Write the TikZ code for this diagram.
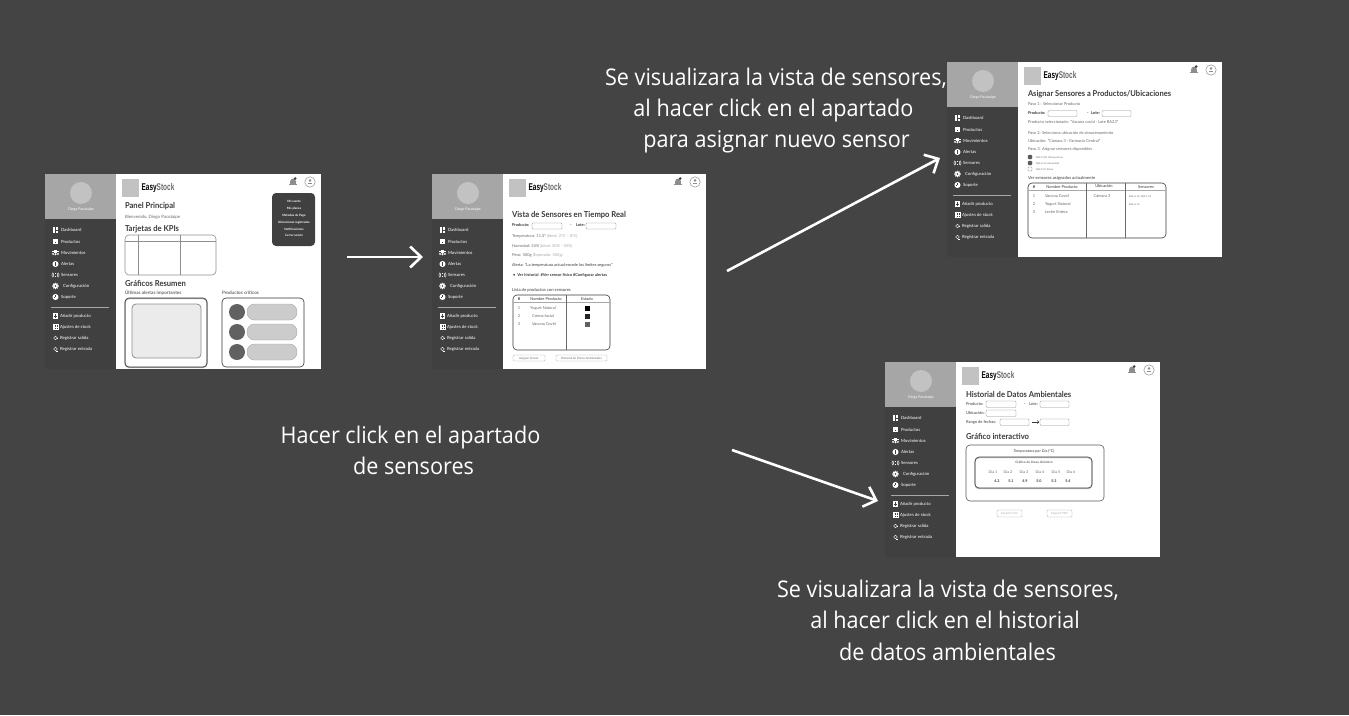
\documentclass[tikz,border=0pt]{standalone}
\usepackage{fontspec}
\usetikzlibrary{arrows.meta}
\setmainfont{Lato}
\newfontfamily\bigfont{Open Sans}
\newfontfamily\logofont{Liberation Sans}
\definecolor{bgc}{HTML}{444444}
\definecolor{sidec}{HTML}{404040}
\definecolor{headc}{HTML}{A6A6A6}
\definecolor{avac}{HTML}{C2C2C2}
\definecolor{inkc}{HTML}{3A3A3A}
\definecolor{midc}{HTML}{6A6A6A}
\definecolor{palec}{HTML}{A8A8A8}
\definecolor{linec}{HTML}{8E8E8E}
\newcommand{\fs}[1]{\fontsize{#1}{#1}\selectfont}
\newcounter{tn}
\tikzset{
  txt/.style={inner sep=0pt,outer sep=0pt,anchor=west,text=inkc},
  ctr/.style={anchor=center},
  sidetxt/.style={txt,text=white,font=\fs{4.3}},
  heading/.style={font=\fs{8.2}\bfseries,xscale=.93},
  body/.style={font=\fs{4},text=midc},
  label/.style={font=\fs{4}\bfseries},
  cell/.style={font=\fs{4},text=midc},
  tiny/.style={font=\fs{2.4},text=midc},
  menuitem/.style={txt,ctr,font=\fs{3}\bfseries,text=white},
  field/.style={draw=linec,line width=.35pt,rounded corners=1pt,fill=white},
  tablebox/.style={draw=inkc,line width=.6pt,rounded corners=4pt},
  thinrule/.style={draw=linec,line width=.6pt},
  iconfill/.style={fill=white,draw=none},
  iconline/.style={draw=white,line width=.45pt},
  bigtxt/.style={inner sep=0pt,anchor=base,text=white,font=\bigfont\fs{23},xscale=.94},
  arrowline/.style={draw=white,line width=2.6pt,-{Straight Barb[length=11pt,width=21pt,line width=2.6pt]}},
}
\newcommand{\tx}[4][]{\stepcounter{tn}\node[txt,#1] (t\thetn) at (#2,#3+.8) {\vphantom{Ag}#4};}
% icons, drawn about (0,0)
\newcommand{\icdash}{\fill[iconfill] (-3,-3) rectangle (-.4,.6);\fill[iconfill] (.4,-3) rectangle (3,-1);\fill[iconfill] (.4,-.4) rectangle (3,3);\fill[iconfill] (-3,1.2) rectangle (-.4,3);}
\newcommand{\icbox}{\fill[iconfill] (-3,-2.6) rectangle (3,-1.2);\fill[iconfill] (-2.7,-.8) rectangle (2.7,2.8);\fill[sidec] (-1,-.4) rectangle (1,.3);}
\newcommand{\icppl}{\fill[iconfill] (-2.6,-1) circle (1.1);\fill[iconfill] (2.6,-1) circle (1.1);\fill[iconfill] (0,-1.3) circle (1.3);\fill[iconfill] (-4,.7) rectangle (-1.6,2.6);\fill[iconfill] (1.6,.7) rectangle (4,2.6);\fill[iconfill] (-1.6,.4) rectangle (1.6,2.8);}
\newcommand{\icalert}{\fill[iconfill] (0,0) circle (3.2);\fill[sidec] (-.35,-1.8) rectangle (.35,.6);\fill[sidec] (-.35,1) rectangle (.35,1.7);}
\newcommand{\icsens}{\fill[iconfill] (-.9,-2.4) rectangle (.9,-.6);\fill[iconfill] (-.9,.6) rectangle (.9,2.4);\draw[iconline] (-1.8,-2) .. controls (-2.6,-.7) and (-2.6,.7) .. (-1.8,2) (1.8,-2) .. controls (2.6,-.7) and (2.6,.7) .. (1.8,2) (-3.1,-2.4) .. controls (-4,-.8) and (-4,.8) .. (-3.1,2.4) (3.1,-2.4) .. controls (4,-.8) and (4,.8) .. (3.1,2.4);}
\newcommand{\icgear}{\draw[draw=white,line width=1.5pt,dash pattern=on 1pt off .8pt] (0,0) circle (2.6);\fill[iconfill] (0,0) circle (2.4);\fill[sidec] (0,0) circle (1);}
\newcommand{\icsupport}{\fill[iconfill] (0,0) circle (3.2);\fill[sidec] (-.4,-.2) rectangle (.4,1.8);\fill[sidec] (-1.6,-1.4) rectangle (-.9,-.2);}
\newcommand{\icadd}{\fill[iconfill] (-3,-3) rectangle (3,3);\fill[sidec] (-2,-.35) rectangle (2,.35);\fill[sidec] (-.35,-2) rectangle (.35,2);}
\newcommand{\icadj}{\draw[draw=white,line width=.4pt] (-2.7,-2.7) rectangle (2.7,2.7) (-.9,-2.7) -- (-.9,2.7) (.9,-2.7) -- (.9,2.7) (-2.7,0) -- (2.7,0);}
\newcommand{\icout}{\draw[iconline] (0,0) circle (2);\draw[iconline] (1.2,-.6) -- (3,-.6);}
\newcommand{\icin}{\draw[iconline] (0,0) circle (2);\draw[iconline] (.6,-2.4) -- (2.4,-2.4);}
% one row of the side bar: rel y, icon, text, text offset
\newcommand{\sideitem}[4]{%
  \begin{scope}[shift={(\sx+10.5,\sy+#1)},x=.95pt,y=.95pt]#2\end{scope}
  \tx[sidetxt]{\sx+#4}{\sy+#1}{#3}}
% screen frame: left, top, split, right
\newcommand{\screen}[4]{%
  \def\sx{#1}\def\sy{#2}%
  \fill[white] (#3,#2) rectangle (#4,#2+195);
  \fill[sidec] (#1,#2) rectangle (#3,#2+195);
  \fill[headc] (#1,#2) rectangle (#3,#2+45);
  \fill[avac] (#1+36,#2+19) circle (11);
  \tx[ctr,font=\fs{3.6},text=white]{#1+36}{#2+35}{Diego Pacotaipe}
  \sideitem{56}{\icdash}{Dashboard}{16}
  \sideitem{68}{\icbox}{Productos}{16}
  \sideitem{79}{\icppl}{Movimientos}{16}
  \sideitem{90}{\icalert}{Alertas}{16}
  \sideitem{101}{\icsens}{Sensores}{16}
  \sideitem{112}{\icgear}{Configuración}{18}
  \sideitem{123}{\icsupport}{Soporte}{16}
  \draw[draw=palec,line width=.7pt] (#1+6,#2+133) -- (#1+64,#2+133);
  \sideitem{142}{\icadd}{Añadir producto}{15}
  \sideitem{153}{\icadj}{Ajustes de stock}{15}
  \sideitem{164}{\icout}{Registrar salida}{15}
  \sideitem{175}{\icin}{Registrar entrada}{15}
  % logo
  \fill[avac] (#3+5.5,#2+5) rectangle (#3+23,#2+23);
  \node[inner sep=0pt,anchor=west,xscale=.66,font=\logofont\fs{9.8}\bfseries,text=black] (logo#1) at (#3+25.5,#2+14) {Easy\textcolor{midc}{Stock}};
  % bell
  \fill[linec] (#4-28,#2+7.4) circle (2.8);
  \fill[linec] (#4-30.8,#2+7.4) rectangle (#4-25.2,#2+10.4);
  \fill[linec] (#4-31.6,#2+10.2) rectangle (#4-24.4,#2+11);
  \fill[inkc] (#4-25.8,#2+4.6) circle (1.4);
  % user
  \draw[draw=linec,line width=.5pt] (#4-11,#2+8) circle (5.2);
  \fill[linec] (#4-11,#2+6.4) circle (1.4);
  \fill[linec] (#4-13.4,#2+9) rectangle (#4-8.6,#2+10.4);
}
\newcommand{\fieldbox}[4]{\draw[field] (#1,#2) rectangle (#3,#4);}
\begin{document}
\begin{tikzpicture}[x=1pt,y=-1pt]
\useasboundingbox (0,0) rectangle (1349,715);
\fill[bgc] (0,0) rectangle (1349,715);

% ---------- screen 1
\screen{45}{174}{116}{321}
\tx[heading]{125}{205}{Panel Principal}
\tx[font=\fs{4.4},text=midc]{125}{216}{Bienvenido, Diego Pacotaipe}
\tx[heading]{125}{228}{Tarjetas de KPIs}
\draw[draw=linec,line width=.6pt,rounded corners=4pt] (125,235) rectangle (216,275);
\draw[thinrule] (125,241) -- (216,241) (138,235) -- (138,275) (180,235) -- (180,275);
\tx[heading]{125}{283}{Gráficos Resumen}
\tx[font=\fs{4.6}\bfseries,text=midc]{125}{292}{Últimas alertas importantes}
\tx[font=\fs{4.6}\bfseries,text=midc]{222}{292}{Productos críticos}
\draw[draw=palec,line width=1pt,rounded corners=4pt] (125,298.6) rectangle (207,367.6);
\draw[tablebox,draw=black!80] (125,298) rectangle (207,367);
\draw[draw=linec,line width=.8pt,rounded corners=4pt,fill=black!8] (132,304) rectangle (201,358);
\draw[tablebox,draw=black!80] (222,298) rectangle (304,367);
\foreach \py in {312,332,352}{
  \fill[black!62] (237,\py) circle (8);
  \draw[draw=palec,line width=.4pt,fill=black!20,rounded corners=7.5pt] (247,\py-8) rectangle (297,\py+8);
}
\fill[sidec,rounded corners=4pt] (272,193) rectangle (315,246);
\tx[menuitem]{294}{201}{Mi cuenta}
\tx[menuitem]{294}{208}{Mis planes}
\tx[menuitem]{294}{215}{Métodos de Pago}
\tx[menuitem]{294}{221.5}{Ubicaciones registradas}
\tx[menuitem]{294}{228.5}{Notificaciones}
\tx[menuitem]{294}{235}{Cerrar sesión}

% ---------- screen 2
\screen{432}{174}{503}{706}
\tx[heading]{512}{214}{Vista de Sensores en Tiempo Real}
\tx[label]{512}{225}{Producto:}
\fieldbox{532}{223}{562}{229}
\tx[label]{570}{225}{-}
\tx[label]{576}{225}{Lote:}
\fieldbox{586}{223}{616}{229}
\tx[body]{512}{236}{Temperatura: 11.5° \textcolor{palec}{(Ideal: 2°C – 8°C)}}
\tx[body]{512}{246}{Humedad: 55\% \textcolor{palec}{(Ideal: 30\% - 50\%)}}
\tx[body]{512}{255}{Peso: 500g \textcolor{palec}{(Esperado: 500g)}}
\tx[font=\fs{4},text=inkc]{512}{265}{Alerta: "La temperatura actual excede los límites seguros"}
\tx[label]{513}{275}{•\ \ Ver historial\ \ \#Ver sensor físico \#Configurar alertas}
\tx[font=\fs{4.2},text=inkc]{512}{290}{Lista de productos con sensores}
\draw[tablebox] (513,295) rectangle (610,350);
\draw[thinrule,line width=1pt,draw=palec] (513,302) -- (610,302);
\draw[draw=midc,line width=.7pt] (566,295) -- (566,350);
\tx[ctr,label]{519}{299}{\#}
\tx[ctr,cell,text=inkc]{546}{299}{Nombre Producto}
\tx[ctr,cell,text=inkc]{587}{298.5}{Estado}
\tx[ctr,cell]{519}{308}{1}
\tx[ctr,cell]{519}{316}{2}
\tx[ctr,cell]{519}{324}{3}
\tx[ctr,cell]{543}{308}{Yogurt Natural}
\tx[ctr,cell]{543}{316}{Crema facial}
\tx[ctr,cell]{544}{324}{Vacuna Covid}
\fill[black] (584.5,305.5) rectangle (589.5,310.5);
\fill[black!85] (584.5,313.5) rectangle (589.5,318.5);
\fill[black!62] (584.5,321.5) rectangle (589.5,326.5);
\draw[field,draw=palec] (513,355) rectangle (545,361);
\tx[ctr,font=\fs{3},text=midc]{529}{357.5}{Asignar Sensor}
\draw[field,draw=palec] (556,355) rectangle (607,361);
\tx[ctr,font=\fs{3},text=midc]{581.5}{357.5}{Historial de Datos Ambientales}

% ---------- screen 3
\screen{947}{62}{1018}{1222}
\tx[font=\fs{8.1}\bfseries,xscale=.93]{1028}{93}{Asignar Sensores a Productos/Ubicaciones}
\tx[body]{1028}{104}{Paso 1 : Seleccionar Producto}
\tx[label]{1028}{113}{Producto:}
\fieldbox{1048}{110.5}{1077}{116.5}
\tx[label]{1087}{113}{-}
\tx[label]{1091}{113}{Lote:}
\fieldbox{1102}{110.5}{1131}{116.5}
\tx[body]{1028}{122}{Producto seleccionado: "Vacuna covid - Lote RA23"}
\tx[body]{1028}{133}{Paso 2: Selecciona ubicación de almacenamiento}
\tx[body]{1028}{141}{Ubicación: "Cámara 3 - Farmacia Central"}
\tx[body]{1028}{149}{Paso 3: Asignar sensores disponibles}
\draw[draw=midc,line width=.35pt,fill=black!65,rounded corners=.8pt] (1028,155) rectangle (1032,159);
\draw[draw=midc,line width=.35pt,fill=black!65,rounded corners=.8pt] (1028,161) rectangle (1032,165);
\draw[draw=linec,line width=.35pt,rounded corners=.8pt] (1028,167) rectangle (1032,171);
\tx[tiny]{1036}{157}{SNS-T-001 (Temperatura)}
\tx[tiny]{1036}{163}{SNS-H-01 (Humedad)}
\tx[tiny]{1036}{169}{SNS-P-01 (Peso)}
\tx[font=\fs{4.2}\bfseries,text=midc]{1028}{178}{Ver sensores asignados actualmente}
\draw[tablebox] (1028,183) rectangle (1166,238);
\draw[thinrule,draw=palec] (1028,190) -- (1166,190);
\draw[draw=midc,line width=.6pt] (1086,183) -- (1086,238) (1125,183) -- (1125,238);
\tx[ctr,label]{1034}{187}{\#}
\tx[ctr,cell,text=inkc]{1062}{187}{Nombre Producto}
\tx[ctr,cell,text=inkc]{1104}{186}{Ubicación}
\tx[ctr,cell,text=inkc]{1146}{187}{Sensores}
\tx[ctr,cell]{1034}{196}{1}
\tx[ctr,cell]{1034}{204}{2}
\tx[ctr,cell]{1034}{212}{3}
\tx[cell]{1045}{196}{Vacuna Covid}
\tx[cell]{1045}{204}{Yogurt Natural}
\tx[cell]{1045}{212}{Leche Entera}
\tx[ctr,cell]{1102}{196}{Cámara 3}
\tx[tiny]{1129}{196.5}{SNS-H-01, SNS-T-01}
\tx[tiny]{1129}{204.5}{SNS-H-01}

% ---------- screen 4
\screen{885}{362}{956}{1160}
\tx[heading]{966}{394}{Historial de Datos Ambientales}
\tx[label,text=midc]{966}{404}{Producto:}
\fieldbox{986}{401}{1016}{407.5}
\tx[label]{1024}{404}{-}
\tx[label,text=midc]{1029}{404}{Lote:}
\fieldbox{1040}{401}{1069}{407.5}
\tx[label,text=midc]{966}{413}{Ubicación:}
\fieldbox{986}{410}{1016}{416.5}
\tx[label,text=midc]{966}{422}{Rango de fechas:}
\fieldbox{1000}{419}{1029}{425.5}
\fieldbox{1040}{419}{1069}{425.5}
\coordinate (rangeA) at (1032,422);
\coordinate (rangeB) at (1039,422);
\draw[draw=inkc,line width=.4pt,-{Straight Barb[length=1.5pt,width=3pt]}] (rangeA) -- (rangeB);
\tx[heading]{966}{436}{Gráfico interactivo}
\draw[tablebox,draw=black!65] (966,445) rectangle (1104,501);
\tx[ctr,font=\fs{3.7}\bfseries,text=midc]{1034}{451}{Temperatura por Día (°C)}
\draw[draw=palec,line width=.8pt,rounded corners=4pt] (975,457.8) rectangle (1092,488.8);
\draw[draw=inkc,line width=.6pt,rounded corners=4pt] (975,457) rectangle (1092,488);
\tx[ctr,font=\fs{3.2}\bfseries,text=midc]{1034}{462}{Gráfico de líneas dinámico}
\tx[ctr,font=\fs{3.7},text=midc]{993}{472}{Día 1}
\tx[ctr,font=\fs{3.7},text=midc]{1008}{472}{Día 2}
\tx[ctr,font=\fs{3.7},text=midc]{1024}{472}{Día 3}
\tx[ctr,font=\fs{3.7},text=midc]{1040}{472}{Día 4}
\tx[ctr,font=\fs{3.7},text=midc]{1056}{472}{Día 5}
\tx[ctr,font=\fs{3.7},text=midc]{1071}{472}{Día 6}
\tx[ctr,font=\fs{3.7}\bfseries]{997}{481}{4.2}
\tx[ctr,font=\fs{3.7}\bfseries]{1011}{481}{5.1}
\tx[ctr,font=\fs{3.7}\bfseries]{1025}{481}{4.9}
\tx[ctr,font=\fs{3.7}\bfseries]{1039}{481}{5.0}
\tx[ctr,font=\fs{3.7}\bfseries]{1054}{481}{5.3}
\tx[ctr,font=\fs{3.7}\bfseries]{1068}{481}{5.4}
\draw[field,draw=palec] (997,510) rectangle (1022,517);
\tx[ctr,font=\fs{2.8},text=palec]{1009.5}{513}{Exportar CSV}
\draw[field,draw=palec] (1047,510) rectangle (1072,517);
\tx[ctr,font=\fs{2.8},text=palec]{1059.5}{513}{Exportar PDF}

% ---------- connectors
\coordinate (a1s) at (347,257);
\coordinate (a1e) at (423,257);
\coordinate (a2s) at (727,271);
\coordinate (a2e) at (940,158);
\coordinate (a3s) at (732,450);
\coordinate (a3e) at (878,501);
\draw[arrowline] (a1s) -- (a1e);
\draw[arrowline] (a2s) -- (a2e);
\draw[arrowline] (a3s) -- (a3e);

% ---------- captions
\node[bigtxt] (c1a) at (776,85) {Se visualizara la vista de sensores,};
\node[bigtxt] (c1b) at (773.5,116) {al hacer click en el apartado};
\node[bigtxt] (c1c) at (776.5,147) {para asignar nuevo sensor};
\node[bigtxt] (c2a) at (410.5,443.5) {Hacer click en el apartado};
\node[bigtxt] (c2b) at (413.5,474.5) {de sensores};
\node[bigtxt] (c3a) at (948,597.5) {Se visualizara la vista de sensores,};
\node[bigtxt] (c3b) at (945,628.5) {al hacer click en el historial};
\node[bigtxt] (c3c) at (947.5,660) {de datos ambientales};
\end{tikzpicture}
\end{document}
